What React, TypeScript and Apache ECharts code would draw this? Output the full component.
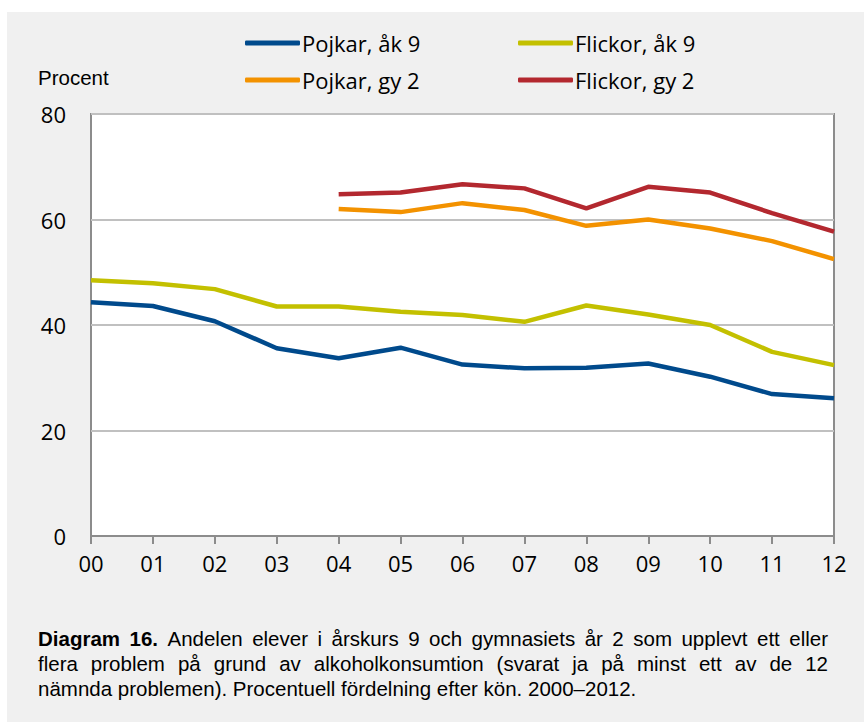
import React, { useEffect, useRef } from "react";
import * as echarts from "echarts";

const categories = ["00", "01", "02", "03", "04", "05", "06", "07", "08", "09", "10", "11", "12"];
const pojkarAk9 = [44.3, 43.6, 40.7, 35.6, 33.7, 35.7, 32.5, 31.8, 31.9, 32.7, 30.2, 26.9, 26.1];
const flickorAk9 = [48.5, 47.9, 46.8, 43.5, 43.5, 42.5, 41.9, 40.6, 43.7, 42.0, 40.0, 34.9, 32.4];
const pojkarGy2 = [null, null, null, null, 62.0, 61.4, 63.1, 61.8, 58.8, 60.0, 58.3, 55.9, 52.5];
const flickorGy2 = [null, null, null, null, 64.8, 65.1, 66.7, 65.9, 62.1, 66.2, 65.1, 61.2, 57.7];

const seriesNames = ["Pojkar, åk 9", "Flickor, åk 9", "Pojkar, gy 2", "Flickor, gy 2"];
const seriesColors = ["#004a8c", "#c3c000", "#f39200", "#b3282f"];
const yTicks = { min: 0, max: 80, interval: 20 };

const captionBold = "Diagram 16.";
const captionLines = [
  "Diagram 16. Andelen elever i årskurs 9 och gymnasiets år 2 som upplevt ett eller",
  "flera problem på grund av alkoholkonsumtion (svarat ja på minst ett av de 12",
  "nämnda problemen). Procentuell fördelning efter kön. 2000–2012.",
];

const CAP_FONT = "Liberation Sans";
const CAP_SIZE = 20.5;

function buildCaption(): any[] {
  const canvas = document.createElement("canvas");
  const ctx = canvas.getContext("2d")!;
  const measure = (w: string, bold: boolean) => {
    ctx.font = `${bold ? "bold " : ""}${CAP_SIZE}px "${CAP_FONT}"`;
    return ctx.measureText(w).width;
  };
  const left = 38;
  const right = 828;
  const centers = [638, 663, 688];
  const els: any[] = [];
  captionLines.forEach((line, li) => {
    const words = line.split(" ");
    const boldCount = li === 0 ? captionBold.split(" ").length : 0;
    const widths = words.map((w, i) => measure(w, i < boldCount));
    const spaceW = measure(" ", false);
    const total = widths.reduce((a, b) => a + b, 0);
    const justify = li < captionLines.length - 1;
    const gap = justify ? (right - left - total) / (words.length - 1) : spaceW;
    let x = left;
    words.forEach((w, i) => {
      els.push({
        type: "text",
        x,
        y: centers[li],
        silent: true,
        style: {
          text: w,
          fill: "#000",
          font: `${i < boldCount ? "bold " : ""}${CAP_SIZE}px "${CAP_FONT}"`,
          textVerticalAlign: "middle",
        },
      });
      x += widths[i] + gap;
    });
  });
  return els;
}

export default function App() {
  const ref = useRef<HTMLDivElement>(null);
  useEffect(() => {
    if (!ref.current) return;
    const chart = echarts.init(ref.current, undefined, { renderer: "svg" });
    const datasets = [pojkarAk9, flickorAk9, pojkarGy2, flickorGy2];
    const legendPos = [
      { left: 245, top: 32 },
      { left: 518, top: 32 },
      { left: 245, top: 69 },
      { left: 518, top: 69 },
    ];
    chart.setOption({
      animation: false,
      backgroundColor: "#f0f0f0",
      legend: seriesNames.map((n, i) => ({
        data: [n],
        left: legendPos[i].left,
        top: legendPos[i].top,
        icon: "roundRect",
        itemWidth: 55,
        itemHeight: 5,
        padding: 0,
        selectedMode: false,
        textStyle: { fontFamily: "Open Sans", fontSize: 22, color: "#000", padding: [0, 0, 0, -3] },
      })),
      grid: {
        left: 91,
        right: 30,
        top: 114,
        bottom: 186,
        show: true,
        backgroundColor: "#fff",
        borderColor: "#8c8c8c",
        borderWidth: 2,
      },
      xAxis: {
        type: "category",
        data: categories,
        boundaryGap: false,
        axisLine: { lineStyle: { color: "#8c8c8c", width: 2 } },
        axisTick: { show: true, length: 8, lineStyle: { color: "#8c8c8c", width: 2 } },
        axisLabel: { fontFamily: "Open Sans", fontSize: 22, color: "#000", margin: 16 },
        splitLine: { show: false },
      },
      yAxis: {
        type: "value",
        min: yTicks.min,
        max: yTicks.max,
        interval: yTicks.interval,
        axisLine: { show: false },
        axisTick: { show: false },
        axisLabel: { fontFamily: "Open Sans", fontSize: 22, color: "#000", margin: 25 },
        splitLine: { lineStyle: { color: "#c0c0c0", width: 2 } },
      },
      series: datasets.map((d, i) => ({
        name: seriesNames[i],
        type: "line",
        data: d,
        symbol: "none",
        showSymbol: false,
        color: seriesColors[i],
        lineStyle: { color: seriesColors[i], width: 4.5 },
        connectNulls: false,
      })),
      graphic: [
        { type: "rect", shape: { x: 0, y: 0, width: 864, height: 12 }, style: { fill: "#fff" }, silent: true },
        { type: "rect", shape: { x: 0, y: 0, width: 7, height: 722 }, style: { fill: "#fff" }, silent: true },
        {
          type: "text",
          x: 38,
          y: 77,
          silent: true,
          style: {
            text: "Procent",
            fill: "#000",
            font: '20.5px "Liberation Sans"',
            textVerticalAlign: "middle",
          },
        },
        ...buildCaption(),
      ],
    });
    return () => chart.dispose();
  }, []);
  return (
    <div
      ref={ref}
      style={{ position: "absolute", left: 0, top: 0, width: 864, height: 722 }}
    />
  );
}
